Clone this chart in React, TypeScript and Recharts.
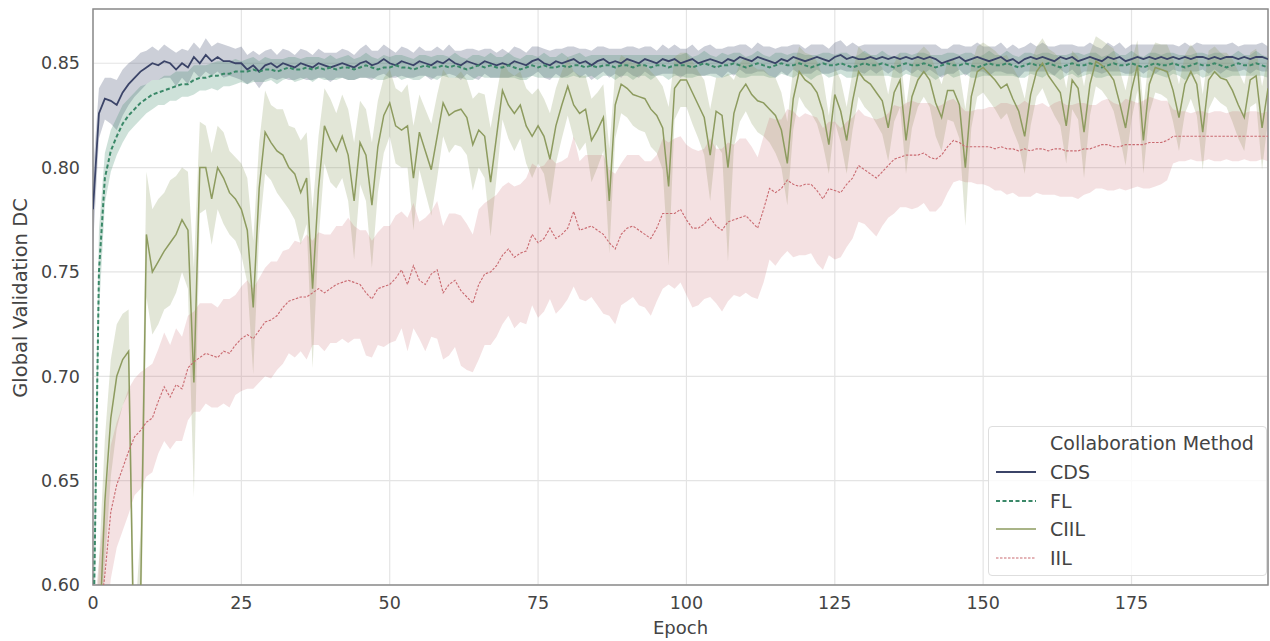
import { Area, CartesianGrid, ComposedChart, Legend, Line, ReferenceArea, XAxis, YAxis } from 'recharts'

// mean validation DC per epoch (0..199) and half width of the shaded band
const cdsMean = [
  0.780, 0.826, 0.833, 0.832, 0.830, 0.836, 0.840, 0.843, 0.846, 0.848,
  0.850, 0.849, 0.851, 0.850, 0.847, 0.850, 0.848, 0.853, 0.850, 0.854,
  0.851, 0.853, 0.851, 0.851, 0.850, 0.850, 0.847, 0.849, 0.846, 0.849,
  0.850, 0.848, 0.850, 0.849, 0.848, 0.850, 0.849, 0.848, 0.850, 0.849,
  0.848, 0.849, 0.850, 0.849, 0.848, 0.850, 0.851, 0.849, 0.850, 0.852,
  0.850, 0.849, 0.851, 0.850, 0.849, 0.851, 0.850, 0.849, 0.851, 0.850,
  0.852, 0.850, 0.849, 0.851, 0.850, 0.849, 0.851, 0.850, 0.849, 0.850,
  0.849, 0.851, 0.850, 0.849, 0.851, 0.852, 0.850, 0.849, 0.851, 0.850,
  0.851, 0.852, 0.850, 0.851, 0.849, 0.851, 0.852, 0.850, 0.851, 0.850,
  0.852, 0.851, 0.850, 0.852, 0.851, 0.850, 0.852, 0.851, 0.852, 0.850,
  0.851, 0.852, 0.850, 0.851, 0.852, 0.851, 0.850, 0.852, 0.851, 0.853,
  0.852, 0.851, 0.853, 0.852, 0.851, 0.850, 0.852, 0.851, 0.853, 0.852,
  0.851, 0.852, 0.853, 0.852, 0.851, 0.853, 0.854, 0.852, 0.853, 0.852,
  0.852, 0.853, 0.852, 0.853, 0.852, 0.853, 0.852, 0.853, 0.852, 0.853,
  0.852, 0.853, 0.852, 0.850, 0.851, 0.852, 0.853, 0.851, 0.852, 0.853,
  0.852, 0.851, 0.852, 0.853, 0.851, 0.852, 0.850, 0.852, 0.853, 0.852,
  0.853, 0.852, 0.851, 0.853, 0.852, 0.853, 0.851, 0.852, 0.853, 0.852,
  0.851, 0.853, 0.852, 0.853, 0.851, 0.852, 0.853, 0.852, 0.853, 0.852,
  0.853, 0.852, 0.853, 0.852, 0.853, 0.852, 0.853, 0.853, 0.852, 0.853,
  0.852, 0.853, 0.853, 0.852, 0.853, 0.852, 0.853, 0.853, 0.852, 0.853,
]
const cdsSpread = [
  0.018, 0.012, 0.010, 0.011, 0.012, 0.011, 0.010, 0.009, 0.009, 0.008,
  0.008, 0.007, 0.008, 0.007, 0.008, 0.007, 0.008, 0.007, 0.007, 0.008,
  0.007, 0.007, 0.008, 0.007, 0.007, 0.008, 0.007, 0.007, 0.008, 0.007,
  0.007, 0.006, 0.007, 0.007, 0.006, 0.007, 0.007, 0.006, 0.007, 0.006,
  0.007, 0.006, 0.007, 0.007, 0.006, 0.007, 0.008, 0.007, 0.006, 0.007,
  0.007, 0.006, 0.007, 0.007, 0.006, 0.007, 0.006, 0.007, 0.007, 0.006,
  0.007, 0.006, 0.007, 0.006, 0.007, 0.007, 0.006, 0.007, 0.006, 0.007,
  0.006, 0.007, 0.007, 0.006, 0.007, 0.006, 0.007, 0.007, 0.006, 0.007,
  0.007, 0.006, 0.007, 0.006, 0.007, 0.007, 0.006, 0.007, 0.006, 0.007,
  0.006, 0.007, 0.007, 0.006, 0.007, 0.006, 0.007, 0.006, 0.007, 0.007,
  0.006, 0.007, 0.006, 0.007, 0.007, 0.006, 0.007, 0.006, 0.007, 0.006,
  0.007, 0.006, 0.007, 0.006, 0.007, 0.007, 0.006, 0.007, 0.006, 0.007,
  0.006, 0.007, 0.006, 0.007, 0.006, 0.007, 0.007, 0.006, 0.007, 0.006,
  0.007, 0.006, 0.007, 0.006, 0.007, 0.006, 0.007, 0.006, 0.007, 0.006,
  0.007, 0.006, 0.007, 0.007, 0.006, 0.007, 0.006, 0.007, 0.006, 0.007,
  0.006, 0.007, 0.006, 0.007, 0.006, 0.007, 0.007, 0.006, 0.007, 0.006,
  0.007, 0.006, 0.007, 0.006, 0.007, 0.006, 0.007, 0.006, 0.007, 0.006,
  0.006, 0.007, 0.006, 0.007, 0.006, 0.007, 0.006, 0.007, 0.006, 0.007,
  0.006, 0.007, 0.006, 0.006, 0.007, 0.006, 0.007, 0.006, 0.007, 0.006,
  0.007, 0.006, 0.007, 0.006, 0.006, 0.007, 0.006, 0.007, 0.006, 0.007,
]
const flMean = [
  0.560, 0.750, 0.795, 0.808, 0.815, 0.821, 0.825, 0.828, 0.831, 0.833,
  0.835, 0.836, 0.837, 0.838, 0.839, 0.840, 0.840, 0.842, 0.843, 0.843,
  0.844, 0.844, 0.845, 0.845, 0.846, 0.846, 0.846, 0.847, 0.846, 0.847,
  0.847, 0.846, 0.847, 0.848, 0.847, 0.847, 0.848, 0.847, 0.848, 0.847,
  0.848, 0.847, 0.848, 0.848, 0.847, 0.848, 0.849, 0.848, 0.847, 0.848,
  0.848, 0.849, 0.848, 0.848, 0.847, 0.848, 0.849, 0.848, 0.848, 0.849,
  0.848, 0.849, 0.848, 0.847, 0.848, 0.849, 0.848, 0.849, 0.848, 0.848,
  0.849, 0.848, 0.847, 0.848, 0.849, 0.848, 0.849, 0.848, 0.848, 0.849,
  0.848, 0.849, 0.849, 0.848, 0.849, 0.848, 0.849, 0.849, 0.848, 0.849,
  0.849, 0.848, 0.849, 0.849, 0.848, 0.849, 0.849, 0.848, 0.849, 0.849,
  0.849, 0.848, 0.849, 0.850, 0.849, 0.848, 0.849, 0.849, 0.850, 0.849,
  0.848, 0.849, 0.850, 0.849, 0.848, 0.849, 0.850, 0.849, 0.849, 0.850,
  0.849, 0.848, 0.849, 0.850, 0.849, 0.849, 0.850, 0.849, 0.848, 0.849,
  0.850, 0.849, 0.849, 0.850, 0.849, 0.848, 0.849, 0.850, 0.849, 0.849,
  0.850, 0.849, 0.848, 0.849, 0.850, 0.849, 0.849, 0.850, 0.849, 0.848,
  0.849, 0.850, 0.849, 0.849, 0.850, 0.849, 0.848, 0.849, 0.850, 0.849,
  0.849, 0.850, 0.849, 0.848, 0.849, 0.850, 0.849, 0.849, 0.850, 0.849,
  0.848, 0.849, 0.850, 0.849, 0.849, 0.850, 0.849, 0.848, 0.849, 0.850,
  0.849, 0.849, 0.850, 0.849, 0.848, 0.849, 0.850, 0.849, 0.849, 0.850,
  0.849, 0.848, 0.849, 0.850, 0.849, 0.849, 0.850, 0.849, 0.848, 0.849,
]
const flSpread = [
  0.030, 0.020, 0.012, 0.010, 0.009, 0.009, 0.008, 0.008, 0.008, 0.007,
  0.007, 0.006, 0.007, 0.006, 0.007, 0.006, 0.006, 0.007, 0.006, 0.006,
  0.006, 0.007, 0.006, 0.006, 0.006, 0.005, 0.006, 0.006, 0.005, 0.006,
  0.005, 0.006, 0.005, 0.005, 0.006, 0.005, 0.005, 0.006, 0.005, 0.005,
  0.006, 0.005, 0.005, 0.006, 0.005, 0.005, 0.006, 0.005, 0.005, 0.006,
  0.005, 0.005, 0.006, 0.005, 0.005, 0.006, 0.005, 0.005, 0.006, 0.005,
  0.005, 0.006, 0.005, 0.005, 0.006, 0.005, 0.005, 0.006, 0.005, 0.005,
  0.006, 0.005, 0.005, 0.006, 0.005, 0.005, 0.006, 0.005, 0.005, 0.006,
  0.005, 0.005, 0.006, 0.005, 0.005, 0.006, 0.005, 0.005, 0.006, 0.005,
  0.005, 0.006, 0.005, 0.005, 0.006, 0.005, 0.005, 0.006, 0.005, 0.005,
  0.006, 0.005, 0.005, 0.006, 0.005, 0.005, 0.006, 0.005, 0.005, 0.006,
  0.005, 0.005, 0.006, 0.005, 0.005, 0.006, 0.005, 0.005, 0.006, 0.005,
  0.005, 0.006, 0.005, 0.005, 0.006, 0.005, 0.005, 0.006, 0.005, 0.005,
  0.006, 0.005, 0.005, 0.006, 0.005, 0.005, 0.006, 0.005, 0.005, 0.006,
  0.005, 0.005, 0.006, 0.005, 0.005, 0.006, 0.005, 0.005, 0.006, 0.005,
  0.005, 0.006, 0.005, 0.005, 0.006, 0.005, 0.005, 0.006, 0.005, 0.005,
  0.006, 0.005, 0.005, 0.006, 0.005, 0.005, 0.006, 0.005, 0.005, 0.006,
  0.005, 0.005, 0.006, 0.005, 0.005, 0.006, 0.005, 0.005, 0.006, 0.005,
  0.005, 0.006, 0.005, 0.005, 0.006, 0.005, 0.005, 0.006, 0.005, 0.005,
  0.006, 0.005, 0.005, 0.006, 0.005, 0.005, 0.006, 0.005, 0.005, 0.006,
]
const ciilMean = [
  0.500, 0.570, 0.640, 0.680, 0.700, 0.708, 0.712, 0.550, 0.590, 0.768,
  0.750, 0.755, 0.760, 0.764, 0.768, 0.775, 0.770, 0.697, 0.800, 0.800,
  0.785, 0.800, 0.795, 0.788, 0.785, 0.780, 0.770, 0.733, 0.790, 0.817,
  0.812, 0.808, 0.806, 0.800, 0.797, 0.788, 0.795, 0.742, 0.790, 0.820,
  0.813, 0.808, 0.815, 0.806, 0.784, 0.812, 0.806, 0.782, 0.810, 0.825,
  0.831, 0.820, 0.818, 0.820, 0.795, 0.817, 0.808, 0.799, 0.815, 0.831,
  0.825, 0.827, 0.828, 0.824, 0.811, 0.818, 0.815, 0.793, 0.815, 0.837,
  0.830, 0.826, 0.830, 0.820, 0.815, 0.820, 0.815, 0.804, 0.820, 0.830,
  0.839, 0.830, 0.826, 0.828, 0.813, 0.818, 0.824, 0.784, 0.830, 0.840,
  0.838, 0.835, 0.834, 0.833, 0.828, 0.825, 0.819, 0.791, 0.838, 0.842,
  0.842, 0.836, 0.830, 0.824, 0.806, 0.827, 0.825, 0.800, 0.826, 0.836,
  0.840, 0.835, 0.832, 0.831, 0.828, 0.825, 0.818, 0.802, 0.833, 0.846,
  0.842, 0.840, 0.836, 0.827, 0.811, 0.835, 0.827, 0.813, 0.832, 0.846,
  0.842, 0.840, 0.836, 0.832, 0.819, 0.836, 0.842, 0.813, 0.834, 0.842,
  0.846, 0.842, 0.831, 0.824, 0.837, 0.837, 0.830, 0.800, 0.834, 0.846,
  0.848, 0.845, 0.842, 0.838, 0.840, 0.833, 0.827, 0.815, 0.835, 0.846,
  0.850, 0.844, 0.840, 0.836, 0.820, 0.842, 0.838, 0.817, 0.840, 0.851,
  0.849, 0.846, 0.842, 0.831, 0.819, 0.837, 0.849, 0.813, 0.840, 0.848,
  0.847, 0.846, 0.837, 0.824, 0.840, 0.846, 0.840, 0.817, 0.842, 0.846,
  0.843, 0.842, 0.837, 0.830, 0.824, 0.842, 0.844, 0.819, 0.838, 0.822,
]
const ciilSpread = [
  0.040, 0.040, 0.030, 0.028, 0.025, 0.022, 0.020, 0.030, 0.035, 0.030,
  0.030, 0.030, 0.028, 0.030, 0.028, 0.025, 0.028, 0.055, 0.022, 0.020,
  0.022, 0.020, 0.022, 0.020, 0.020, 0.022, 0.025, 0.032, 0.022, 0.020,
  0.018, 0.020, 0.022, 0.020, 0.022, 0.025, 0.022, 0.038, 0.025, 0.018,
  0.020, 0.018, 0.020, 0.022, 0.028, 0.020, 0.022, 0.030, 0.022, 0.018,
  0.016, 0.018, 0.018, 0.020, 0.025, 0.018, 0.020, 0.022, 0.020, 0.016,
  0.018, 0.016, 0.018, 0.018, 0.022, 0.018, 0.020, 0.026, 0.020, 0.014,
  0.016, 0.018, 0.016, 0.018, 0.020, 0.018, 0.018, 0.022, 0.018, 0.016,
  0.014, 0.016, 0.018, 0.016, 0.020, 0.018, 0.016, 0.025, 0.016, 0.014,
  0.014, 0.015, 0.016, 0.016, 0.018, 0.018, 0.020, 0.038, 0.015, 0.013,
  0.013, 0.015, 0.016, 0.018, 0.022, 0.016, 0.018, 0.045, 0.016, 0.014,
  0.013, 0.014, 0.015, 0.016, 0.016, 0.018, 0.018, 0.020, 0.015, 0.012,
  0.013, 0.014, 0.015, 0.016, 0.014, 0.013, 0.015, 0.016, 0.014, 0.012,
  0.013, 0.014, 0.015, 0.016, 0.016, 0.014, 0.013, 0.016, 0.015, 0.013,
  0.012, 0.013, 0.016, 0.016, 0.014, 0.015, 0.016, 0.028, 0.015, 0.012,
  0.012, 0.013, 0.014, 0.015, 0.014, 0.015, 0.016, 0.018, 0.015, 0.012,
  0.012, 0.013, 0.015, 0.016, 0.018, 0.014, 0.015, 0.022, 0.015, 0.012,
  0.012, 0.013, 0.015, 0.016, 0.018, 0.014, 0.012, 0.016, 0.014, 0.012,
  0.012, 0.013, 0.015, 0.016, 0.014, 0.013, 0.015, 0.018, 0.014, 0.012,
  0.012, 0.013, 0.015, 0.016, 0.016, 0.013, 0.013, 0.020, 0.015, 0.018,
]
const iilMean = [
  0.550, 0.580, 0.605, 0.635, 0.648, 0.656, 0.664, 0.671, 0.674, 0.678,
  0.680, 0.688, 0.695, 0.690, 0.696, 0.694, 0.704, 0.707, 0.709, 0.711,
  0.710, 0.709, 0.712, 0.711, 0.715, 0.718, 0.720, 0.718, 0.722, 0.726,
  0.727, 0.729, 0.733, 0.736, 0.737, 0.738, 0.738, 0.740, 0.742, 0.740,
  0.742, 0.744, 0.745, 0.746, 0.745, 0.744, 0.740, 0.737, 0.742, 0.743,
  0.744, 0.747, 0.751, 0.744, 0.753, 0.746, 0.744, 0.749, 0.751, 0.740,
  0.744, 0.746, 0.741, 0.738, 0.735, 0.744, 0.749, 0.750, 0.753, 0.758,
  0.761, 0.757, 0.759, 0.760, 0.768, 0.764, 0.766, 0.771, 0.766, 0.768,
  0.771, 0.779, 0.770, 0.771, 0.772, 0.770, 0.768, 0.764, 0.761, 0.768,
  0.771, 0.772, 0.770, 0.768, 0.766, 0.771, 0.778, 0.778, 0.778, 0.780,
  0.775, 0.771, 0.771, 0.773, 0.776, 0.772, 0.770, 0.774, 0.775, 0.776,
  0.777, 0.774, 0.771, 0.780, 0.790, 0.788, 0.790, 0.794, 0.792, 0.791,
  0.792, 0.792, 0.789, 0.785, 0.790, 0.789, 0.788, 0.792, 0.795, 0.801,
  0.799, 0.797, 0.795, 0.798, 0.801, 0.804, 0.805, 0.806, 0.806, 0.806,
  0.807, 0.805, 0.804, 0.806, 0.810, 0.813, 0.812, 0.810, 0.810, 0.810,
  0.810, 0.810, 0.809, 0.810, 0.809, 0.809, 0.808, 0.809, 0.808, 0.809,
  0.809, 0.808, 0.809, 0.809, 0.808, 0.808, 0.808, 0.809, 0.809, 0.810,
  0.811, 0.811, 0.810, 0.810, 0.811, 0.811, 0.811, 0.811, 0.812, 0.812,
  0.812, 0.813, 0.815, 0.815, 0.815, 0.815, 0.815, 0.815, 0.815, 0.815,
  0.815, 0.815, 0.815, 0.815, 0.815, 0.815, 0.815, 0.815, 0.815, 0.815,
]
const iilSpread = [
  0.030, 0.032, 0.032, 0.032, 0.030, 0.030, 0.030, 0.028, 0.028, 0.026,
  0.026, 0.025, 0.026, 0.025, 0.027, 0.025, 0.025, 0.024, 0.026, 0.024,
  0.025, 0.024, 0.025, 0.026, 0.024, 0.025, 0.026, 0.024, 0.025, 0.026,
  0.028, 0.026, 0.027, 0.025, 0.028, 0.026, 0.030, 0.025, 0.027, 0.028,
  0.026, 0.028, 0.027, 0.030, 0.027, 0.026, 0.030, 0.028, 0.027, 0.029,
  0.028, 0.030, 0.028, 0.032, 0.030, 0.028, 0.032, 0.030, 0.033, 0.032,
  0.034, 0.032, 0.036, 0.035, 0.033, 0.036, 0.034, 0.035, 0.034, 0.033,
  0.032, 0.034, 0.033, 0.035, 0.034, 0.036, 0.035, 0.034, 0.036, 0.035,
  0.034, 0.036, 0.033, 0.035, 0.034, 0.036, 0.038, 0.035, 0.036, 0.034,
  0.035, 0.034, 0.036, 0.035, 0.037, 0.035, 0.036, 0.034, 0.036, 0.035,
  0.036, 0.038, 0.037, 0.036, 0.038, 0.037, 0.039, 0.038, 0.036, 0.038,
  0.037, 0.036, 0.034, 0.035, 0.034, 0.035, 0.033, 0.034, 0.035, 0.033,
  0.034, 0.033, 0.035, 0.034, 0.032, 0.033, 0.031, 0.030, 0.029, 0.027,
  0.026, 0.027, 0.028, 0.026, 0.025, 0.026, 0.024, 0.025, 0.026, 0.025,
  0.024, 0.026, 0.025, 0.024, 0.022, 0.020, 0.018, 0.017, 0.017, 0.018,
  0.018, 0.019, 0.020, 0.021, 0.022, 0.021, 0.022, 0.023, 0.022, 0.021,
  0.022, 0.021, 0.022, 0.023, 0.022, 0.022, 0.023, 0.022, 0.021, 0.020,
  0.021, 0.022, 0.021, 0.020, 0.022, 0.021, 0.020, 0.021, 0.022, 0.021,
  0.020, 0.019, 0.013, 0.012, 0.012, 0.011, 0.012, 0.012, 0.011, 0.012,
  0.012, 0.011, 0.012, 0.012, 0.011, 0.012, 0.012, 0.011, 0.012, 0.012,
]

const xTicks = [0, 25, 50, 75, 100, 125, 150, 175]
const yTicks = [0.6, 0.65, 0.7, 0.75, 0.8, 0.85]

const series = [
  { key: 'cds', name: 'CDS', color: '#3b4468', width: 1.8, dash: undefined, bandOpacity: 0.26 },
  { key: 'fl', name: 'FL', color: '#3a8868', width: 2, dash: '4 2.5', bandOpacity: 0.25 },
  { key: 'ciil', name: 'CIIL', color: '#8d9b5f', width: 1.5, dash: undefined, bandOpacity: 0.25 },
  { key: 'iil', name: 'IIL', color: '#c96a70', width: 1.1, dash: '2.5 1.5', bandOpacity: 0.2 },
]

const data = cdsMean.map((v, i) => ({
  epoch: i,
  cds: v,
  cdsBand: [v - cdsSpread[i], v + cdsSpread[i]],
  fl: flMean[i],
  flBand: [flMean[i] - flSpread[i], flMean[i] + flSpread[i]],
  ciil: ciilMean[i],
  ciilBand: [ciilMean[i] - ciilSpread[i], ciilMean[i] + ciilSpread[i]],
  iil: iilMean[i],
  iilBand: [iilMean[i] - iilSpread[i], iilMean[i] + iilSpread[i]],
}))

const font = '"DejaVu Sans", Verdana, sans-serif'
const textColor = '#444'

const YLabel = () => (
  <text
    x={20}
    y={298}
    transform="rotate(-90, 20, 298)"
    textAnchor="middle"
    dominantBaseline="central"
    fontSize={19.5}
    fill={textColor}
    fontFamily={font}
  >
    Global Validation DC
  </text>
)

const MethodLegend = () => (
  <div
    style={{
      width: 279,
      height: 150,
      boxSizing: 'border-box',
      border: '1px solid #dedede',
      borderRadius: 4,
      background: 'rgba(255,255,255,0.8)',
      fontFamily: font,
      fontSize: 19,
      color: textColor,
      paddingTop: 2,
    }}
  >
    <div style={{ paddingLeft: 61, height: 29, lineHeight: '29px' }}>Collaboration Method</div>
    {series.map((s) => (
      <div key={s.key} style={{ display: 'flex', alignItems: 'center', height: 28.5 }}>
        <svg width={61} height={10}>
          <line
            x1={7}
            x2={47}
            y1={5}
            y2={5}
            stroke={s.color}
            strokeWidth={s.width}
            strokeDasharray={s.dash}
          />
        </svg>
        <span>{s.name}</span>
      </div>
    ))}
  </div>
)

export default function App() {
  return (
    <div style={{ position: 'absolute', left: 0, top: 0 }}>
      <ComposedChart width={1270} height={641} data={data} margin={{ top: 9, right: 2, bottom: 0, left: 0 }}>
        <CartesianGrid stroke="#e4e4e4" strokeWidth={1.2} />
        <XAxis
          dataKey="epoch"
          type="number"
          domain={[0, 198]}
          ticks={xTicks}
          allowDataOverflow
          axisLine={false}
          tickLine={false}
          tickMargin={6}
          height={56}
          tick={{ fontSize: 17.5, fill: textColor, fontFamily: font }}
          label={{ value: 'Epoch', position: 'insideBottom', offset: 7, fontSize: 18, fill: textColor, fontFamily: font }}
        />
        <YAxis
          type="number"
          domain={[0.6, 0.876]}
          ticks={yTicks}
          allowDataOverflow
          axisLine={false}
          tickLine={false}
          tickMargin={7}
          width={93}
          tickFormatter={(v: number) => v.toFixed(2)}
          tick={{ fontSize: 17.5, fill: textColor, fontFamily: font }}
          label={<YLabel />}
        />
        {series.map((s) => (
          <Area
            key={s.key + 'Band'}
            dataKey={s.key + 'Band'}
            type="linear"
            stroke="none"
            fill={s.color}
            fillOpacity={s.bandOpacity}
            isAnimationActive={false}
            legendType="none"
            activeDot={false}
          />
        ))}
        {series.map((s) => (
          <Line
            key={s.key}
            dataKey={s.key}
            name={s.name}
            type="linear"
            stroke={s.color}
            strokeWidth={s.width}
            strokeDasharray={s.dash}
            dot={false}
            activeDot={false}
            isAnimationActive={false}
          />
        ))}
        <ReferenceArea x1={0} x2={198} y1={0.6} y2={0.876} fill="none" stroke="#8c8c8c" strokeWidth={1.5} />
        <Legend
          layout="vertical"
          align="center"
          verticalAlign="middle"
          wrapperStyle={{ left: 988, top: 426, width: 279, height: 150 }}
          content={<MethodLegend />}
        />
      </ComposedChart>
    </div>
  )
}
